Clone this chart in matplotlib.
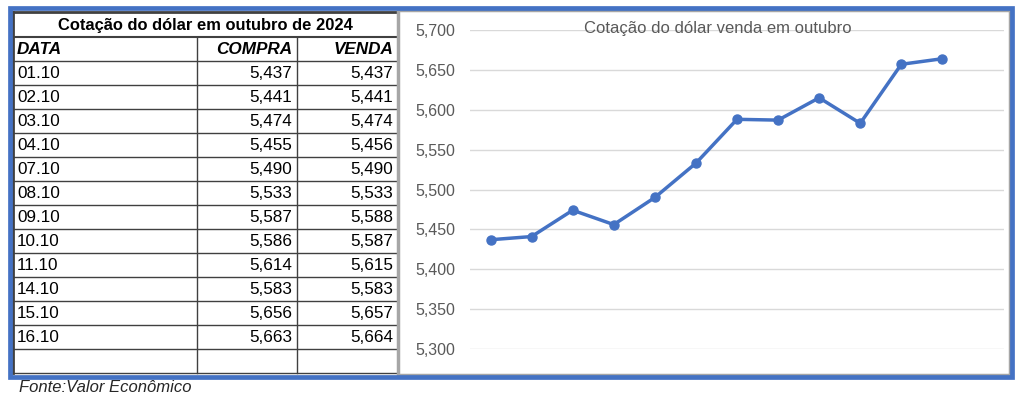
import numpy as np
import matplotlib
matplotlib.use('Agg')
import matplotlib.pyplot as plt
from matplotlib.patches import Rectangle

# dados da tabela
datas = ['01.10', '02.10', '03.10', '04.10', '07.10', '08.10',
         '09.10', '10.10', '11.10', '14.10', '15.10', '16.10']
compra = [5.437, 5.441, 5.474, 5.455, 5.490, 5.533,
          5.587, 5.586, 5.614, 5.583, 5.656, 5.663]
venda = [5.437, 5.441, 5.474, 5.456, 5.490, 5.533,
         5.588, 5.587, 5.615, 5.583, 5.657, 5.664]
y_ticks = [5.30, 5.35, 5.40, 5.45, 5.50, 5.55, 5.60, 5.65, 5.70]

titulo_tabela = 'Cotação do dólar em outubro de 2024'
titulo_grafico = 'Cotação do dólar venda em outubro'
fonte = 'Fonte:Valor Econômico'

W, H = 1019, 398
azul = '#4472C4'
cinza_txt = '#595959'
linha_tab = '#404040'

plt.rcParams['font.family'] = ['Liberation Sans', 'DejaVu Sans']


def virgula(v):
    return f'{v:.3f}'.replace('.', ',')


fig = plt.figure(figsize=(W / 100, H / 100), dpi=100)
fig.patch.set_facecolor('white')

# eixo base em pixels
base = fig.add_axes([0, 0, 1, 1])
base.set_xlim(0, W)
base.set_ylim(H, 0)
base.axis('off')

# moldura azul
base.add_patch(Rectangle((10, 8), 1002, 369, fill=False, edgecolor=azul, lw=3.4, zorder=5))

# tabela
x0, x1, x2, x3 = 13, 197, 297, 397
y_tit, y_cab = 12, 37
y_lin = 61
alt = 24
n_lin = len(datas) + 1
y_fim = y_lin + alt * n_lin

base.plot([x0, x3], [y_tit, y_tit], color=linha_tab, lw=2)
base.plot([x0, x0], [y_tit, y_fim], color=linha_tab, lw=2)
base.plot([x0, x3], [y_cab, y_cab], color=linha_tab, lw=1.5)
for k in range(n_lin + 1):
    yy = y_lin + alt * k
    base.plot([x0, x3], [yy, yy], color=linha_tab, lw=1)
for xx in (x1, x2):
    base.plot([xx, xx], [y_cab, y_fim], color=linha_tab, lw=1)

base.text((x0 + x3) / 2, (y_tit + y_cab) / 2 + 1, titulo_tabela, ha='center', va='center',
          fontsize=11.9, fontweight='bold', color='black')
yc = (y_cab + y_lin) / 2 + 1
base.text(x0 + 4, yc, 'DATA', ha='left', va='center', fontsize=12.3,
          fontweight='bold', style='italic', color='black')
base.text(x2 - 5, yc, 'COMPRA', ha='right', va='center', fontsize=12.3,
          fontweight='bold', style='italic', color='black')
base.text(x3 - 4, yc, 'VENDA', ha='right', va='center', fontsize=12.3,
          fontweight='bold', style='italic', color='black')

for i in range(len(datas)):
    yy = y_lin + alt * i + alt / 2 + 1
    base.text(x0 + 4, yy, datas[i], ha='left', va='center', fontsize=12.3, color='black')
    base.text(x2 - 5, yy, virgula(compra[i]), ha='right', va='center', fontsize=12.3, color='black')
    base.text(x3 - 4, yy, virgula(venda[i]), ha='right', va='center', fontsize=12.3, color='black')

base.text(19, 380, fonte, ha='left', va='top', fontsize=12, style='italic', color='#262626')

# area do grafico
base.add_patch(Rectangle((398, 10), 612, 365, facecolor='white', edgecolor='#A6A6A6', lw=2.5, zorder=3))

# grafico de linha
ax = fig.add_axes([470 / W, (H - 349) / H, 534 / W, (349 - 30) / H])
ax.patch.set_alpha(0)
x = np.arange(len(venda))
ax.plot(x, venda, color=azul, lw=2.5, marker='o', markersize=6.5, zorder=3)
ax.set_xlim(-0.5, len(venda) + 0.5)
ax.set_ylim(5.3, 5.7)
ax.set_yticks(y_ticks)
ax.set_yticklabels([virgula(v) for v in y_ticks], color=cinza_txt, fontsize=11.5)
ax.set_xticks([])
ax.tick_params(axis='y', length=0, pad=10.8)
ax.grid(axis='y', color='#D9D9D9', lw=1)
ax.set_axisbelow(True)
for s in ax.spines.values():
    s.set_visible(False)

fig.text(718 / W, 1 - 28 / H, titulo_grafico, ha='center', va='center', fontsize=12,
         color=cinza_txt, zorder=6)

fig.savefig('out.png', dpi=100, facecolor='white')
